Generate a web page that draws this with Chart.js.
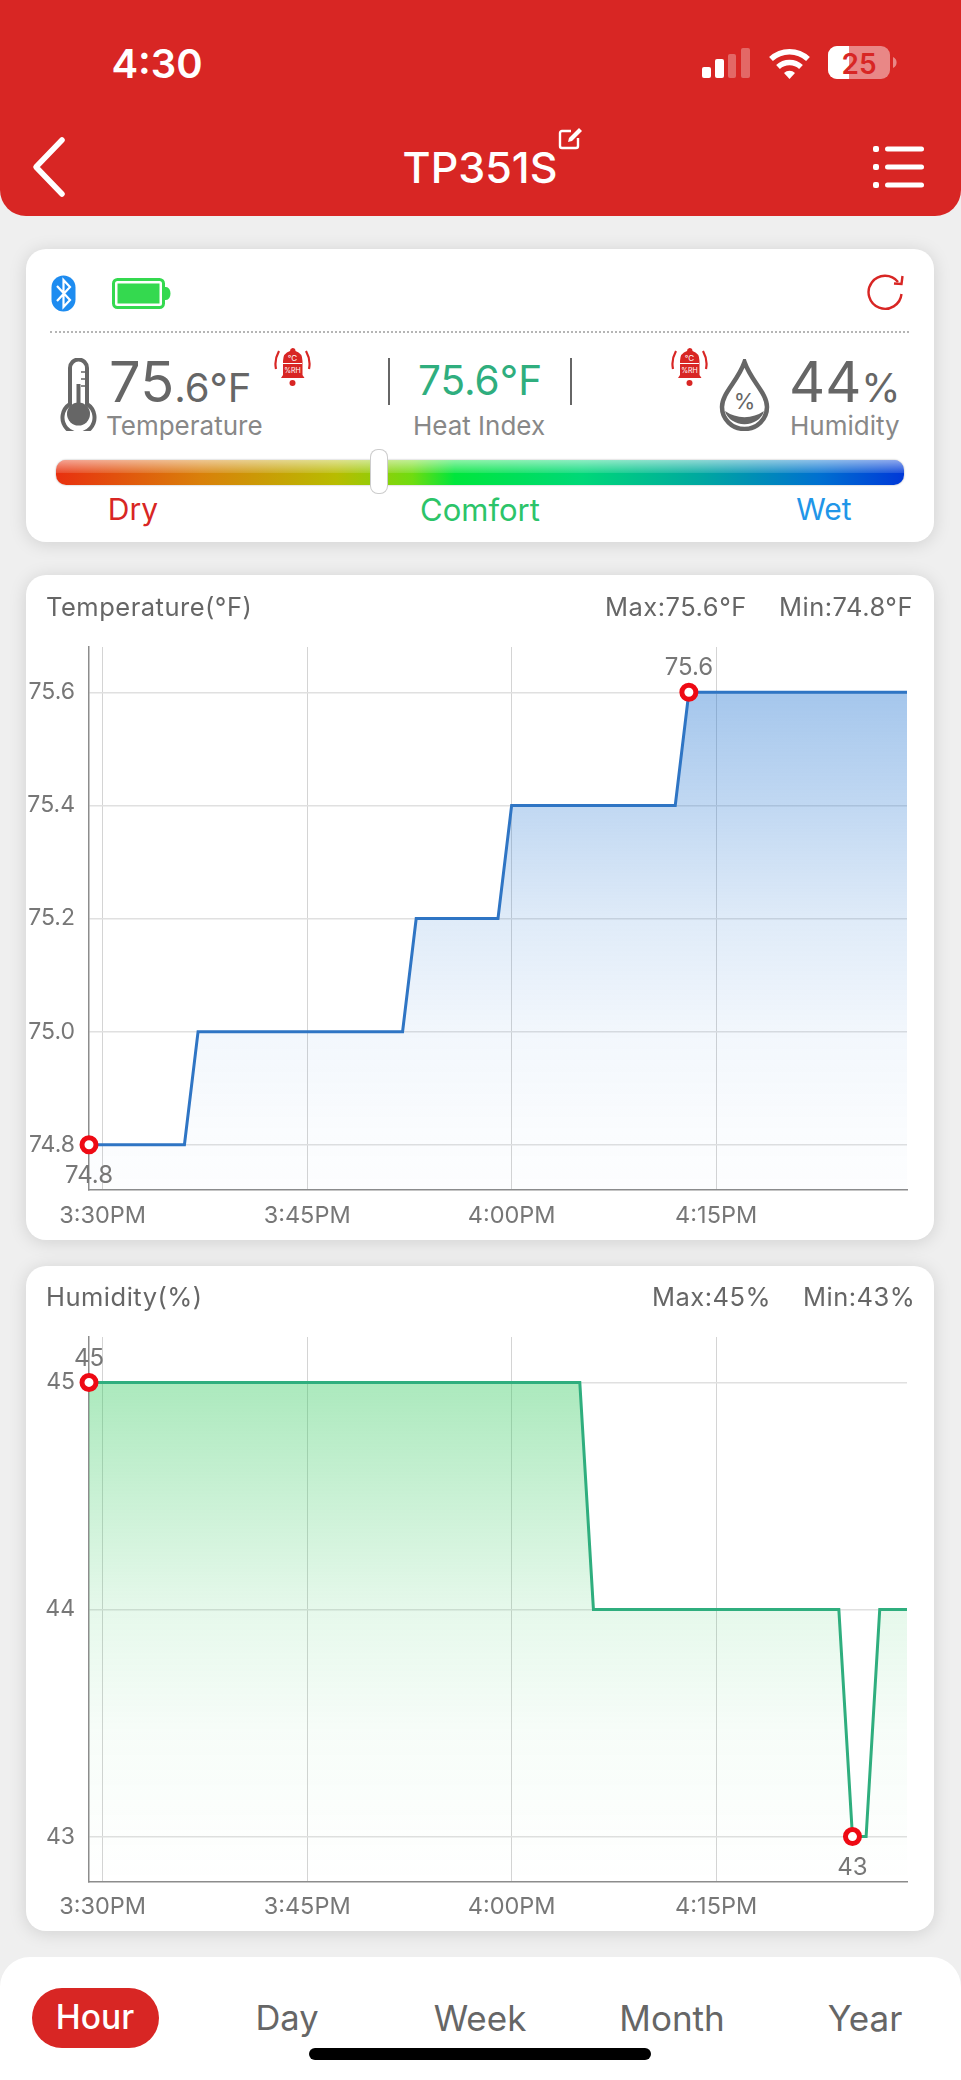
<!DOCTYPE html>
<html><head><meta charset="utf-8">
<script src="https://cdn.jsdelivr.net/npm/chart.js@4"></script>
<style>
html,body{margin:0;padding:0;width:961px;height:2080px;overflow:hidden;background:#efefef;font-family:Inter,"Noto Sans",sans-serif;}
.a{position:absolute}
.t{position:absolute;white-space:nowrap;line-height:1;transform:translateY(-50%);}
.c{transform:translate(-50%,-50%);}
.card{position:absolute;left:26px;width:908px;background:#fff;border-radius:20px;box-shadow:0 2px 18px rgba(0,0,0,.13);}
canvas{position:absolute;left:0;top:0;}
</style></head><body>
<!-- header -->
<div class="a" style="left:0;top:0;width:961px;height:216px;background:#d82624;border-radius:0 0 26px 26px;"></div>
<div class="t c" style="left:157px;top:64px;color:#fff;font-size:40px;font-weight:600;">4:30</div>
<svg class="a" style="left:700px;top:44px" width="200" height="40" viewBox="0 0 200 40">
 <g fill="#fff"><rect x="2" y="23" width="9" height="11" rx="2"/><rect x="15" y="15" width="9" height="19" rx="2"/></g>
 <g fill="#fff" opacity=".3"><rect x="28" y="10" width="8" height="24" rx="2"/><rect x="41" y="4" width="9" height="30" rx="2"/></g>
 <g fill="none" stroke="#fff" stroke-width="5.5" stroke-linecap="butt"><path d="M71 15a27 27 0 0 1 37 0"/><path d="M78 23a17 17 0 0 1 23 0"/></g>
 <path d="M84 29a8 8 0 0 1 11 0l-5.5 6z" fill="#fff"/>
 <rect x="128" y="2" width="62" height="33" rx="9" fill="#fff" opacity=".45"/>
 <path d="M137 2h12v33h-12a9 9 0 0 1-9-9V11a9 9 0 0 1 9-9z" fill="#fff"/>
 <path d="M193 13a6 6 0 0 1 0 11z" fill="#fff" opacity=".45"/>
</svg>
<div class="t c" style="left:859px;top:64px;color:#d82624;font-size:28px;font-weight:600;">25</div>
<svg class="a" style="left:30px;top:135px" width="40" height="64" viewBox="0 0 40 64"><path d="M32 5L6 32l26 27" fill="none" stroke="#fff" stroke-width="5.5" stroke-linecap="round" stroke-linejoin="round"/></svg>
<div class="t c" style="left:480px;top:167px;color:#fff;font-size:43px;font-weight:500;">TP351S</div>
<svg class="a" style="left:558px;top:126px" width="26" height="24" viewBox="0 0 26 24"><path d="M13 5H4a2 2 0 0 0-2 2v13a2 2 0 0 0 2 2h14a2 2 0 0 0 2-2v-8" fill="none" stroke="#fff" stroke-width="2.4"/><path d="M21 2l3 3-10 10-4 1 1-4z" fill="#fff"/></svg>
<svg class="a" style="left:870px;top:142px" width="58" height="50" viewBox="0 0 58 50"><g fill="#fff"><rect x="3" y="4" width="6" height="6" rx="2"/><rect x="3" y="22" width="6" height="6" rx="2"/><rect x="3" y="40" width="6" height="6" rx="2"/><rect x="15" y="4.500" width="39" height="5" rx="2.500"/><rect x="15" y="22.500" width="39" height="5" rx="2.500"/><rect x="15" y="40.500" width="39" height="5" rx="2.500"/></g></svg>

<!-- info card -->
<div class="card" style="top:249px;height:293px;"></div>
<svg class="a" style="left:51px;top:275px" width="25" height="37" viewBox="0 0 25 37"><rect x="0.500" y="0.500" width="24" height="36" rx="12" fill="#1e8cf0"/><path d="M6 11l13 14-6.500 7V5l6.500 7L6 26" fill="none" stroke="#fff" stroke-width="2.200"/></svg>
<svg class="a" style="left:112px;top:278px" width="60" height="31" viewBox="0 0 60 31"><rect x="1.500" y="1.500" width="50" height="28" rx="4" fill="none" stroke="#34d94f" stroke-width="3"/><rect x="5.500" y="5.500" width="42" height="20" fill="#34d94f"/><path d="M54 10a3.500 5.500 0 0 1 0 11z" fill="#34d94f" stroke="#34d94f" stroke-width="2"/></svg>
<svg class="a" style="left:866px;top:272px" width="40" height="42" viewBox="0 0 40 42"><path d="M32 10A16.500 16.500 0 1 0 35.500 22" fill="none" stroke="#d82624" stroke-width="2.400"/><path d="M28 11.500L35.500 12l1-8" fill="none" stroke="#d82624" stroke-width="2.400"/></svg>
<div class="a" style="left:50px;top:331px;width:859px;border-top:2px dotted #b5b5b5;"></div>

<svg class="a" style="left:60px;top:358px" width="37" height="73" viewBox="0 0 37 73"><path d="M10 46V10a8.500 8.500 0 0 1 17 0v36a16 16 0 1 1-17 0z" fill="#fff" stroke="#666" stroke-width="4"/><circle cx="18.500" cy="56" r="11.500" fill="#666"/><rect x="16.500" y="26" width="4" height="28" fill="#666"/><path d="M21 14h4M21 21h4M21 28h4" stroke="#666" stroke-width="1.500"/></svg>
<div class="t" style="left:109px;top:382px;color:#666;font-size:56px;">75<span style="font-size:40px;">.6°F</span></div>
<div class="t" style="left:106px;top:426px;color:#888;font-size:26px;">Temperature</div>
<svg class="a" style="left:273px;top:347px" width="39" height="40" viewBox="0 0 39 40"><g fill="none" stroke="#d82624" stroke-width="2.200"><path d="M6 4Q1 13 3 22"/><path d="M33 4Q38 13 36 22"/></g><path d="M19.500 1a3 3 0 0 1 3 3q7 2 7 10v14l2 3H8l2-3V14q0-8 7-10a3 3 0 0 1 2.500-3z" fill="#d82624"/><circle cx="19.500" cy="36" r="3" fill="#d82624"/><text x="19.500" y="14" text-anchor="middle" font-size="8" fill="#fff" font-family="Inter">°C</text><rect x="10" y="16" width="19" height="1" fill="#fff"/><text x="19.500" y="26" text-anchor="middle" font-size="7" fill="#fff" font-family="Inter">%RH</text></svg>
<div class="a" style="left:388px;top:358px;width:2px;height:47px;background:#666;"></div>
<div class="a" style="left:570px;top:358px;width:2px;height:47px;background:#666;"></div>
<div class="t c" style="left:480px;top:381px;color:#2fae7e;font-size:40.500px;">75.6°F</div>
<div class="t c" style="left:479px;top:426px;color:#888;font-size:26px;">Heat Index</div>
<svg class="a" style="left:670px;top:347px" width="39" height="40" viewBox="0 0 39 40"><g fill="none" stroke="#d82624" stroke-width="2.200"><path d="M6 4Q1 13 3 22"/><path d="M33 4Q38 13 36 22"/></g><path d="M19.500 1a3 3 0 0 1 3 3q7 2 7 10v14l2 3H8l2-3V14q0-8 7-10a3 3 0 0 1 2.500-3z" fill="#d82624"/><circle cx="19.500" cy="36" r="3" fill="#d82624"/><text x="19.500" y="14" text-anchor="middle" font-size="8" fill="#fff" font-family="Inter">°C</text><rect x="10" y="16" width="19" height="1" fill="#fff"/><text x="19.500" y="26" text-anchor="middle" font-size="7" fill="#fff" font-family="Inter">%RH</text></svg>
<svg class="a" style="left:719px;top:359px" width="51" height="72" viewBox="0 0 51 72"><path d="M25.500 3C19 22 3 34 3 48a22.500 22 0 0 0 45 0C48 34 32 22 25.500 3z" fill="#fff" stroke="#666" stroke-width="4.500"/><path d="M6 52a20 17 0 0 0 39 0a34 34 0 0 1-39 0z" fill="#666"/><text x="25.500" y="50" text-anchor="middle" font-size="22" fill="#666" font-family="Inter">%</text></svg>
<div class="t" style="left:789px;top:382px;color:#666;font-size:56px;">44<span style="font-size:40px;">%</span></div>
<div class="t" style="left:790px;top:426px;color:#888;font-size:26px;">Humidity</div>

<div class="a" style="left:56px;top:460px;width:848px;height:25px;border-radius:10px;background:linear-gradient(90deg,#e8300f 0%,#d9800a 17%,#b8bc00 33%,#70dc10 42%,#00e63c 47%,#00d878 62%,#00a8a0 76%,#0070d0 90%,#0038d8 100%);overflow:hidden;box-shadow:0 0 2px rgba(0,0,0,.35);">
 <div class="a" style="left:0;top:0;width:100%;height:50%;background:linear-gradient(180deg,rgba(255,255,255,.55),rgba(255,255,255,.12));"></div>
</div>
<div class="a" style="left:371px;top:450px;width:16px;height:43px;background:#fff;border-radius:7px;box-shadow:0 0 0 1px #ccc;"></div>
<div class="t c" style="left:133px;top:509px;color:#d82624;font-size:30px;">Dry</div>
<div class="t c" style="left:480px;top:509px;color:#2cc469;font-size:31px;">Comfort</div>
<div class="t c" style="left:824px;top:509px;color:#2196e8;font-size:30px;">Wet</div>

<!-- temperature card -->
<div class="card" style="top:575px;height:665px;"><canvas id="tempChart"></canvas></div>
<div class="t" style="left:46px;top:607px;color:#666;font-size:25.500px;letter-spacing:.5px;">Temperature(°F)</div>
<div class="t" style="left:605px;top:607px;color:#666;font-size:25.500px;letter-spacing:.5px;">Max:75.6°F</div>
<div class="t" style="left:779px;top:607px;color:#666;font-size:25.500px;letter-spacing:.5px;">Min:74.8°F</div>

<!-- humidity card -->
<div class="card" style="top:1266px;height:665px;"><canvas id="humChart"></canvas></div>
<div class="t" style="left:46px;top:1297px;color:#666;font-size:25.500px;letter-spacing:.5px;">Humidity(%)</div>
<div class="t" style="left:652px;top:1297px;color:#666;font-size:25.500px;letter-spacing:.5px;">Max:45%</div>
<div class="t" style="left:803px;top:1297px;color:#666;font-size:25.500px;letter-spacing:.5px;">Min:43%</div>

<!-- tabs -->
<div class="a" style="left:0;top:1957px;width:961px;height:123px;background:#fff;border-radius:30px 30px 0 0;"></div>
<div class="a" style="left:32px;top:1988px;width:127px;height:60px;background:#d82624;border-radius:30px;"></div>
<div class="t c" style="left:95px;top:2018px;color:#fff;font-size:33.500px;font-weight:500;">Hour</div>
<div class="t c" style="left:287px;top:2018px;color:#666;font-size:34.500px;">Day</div>
<div class="t c" style="left:480px;top:2018px;color:#666;font-size:35px;">Week</div>
<div class="t c" style="left:672px;top:2018px;color:#666;font-size:35px;">Month</div>
<div class="t c" style="left:865px;top:2018px;color:#666;font-size:35px;">Year</div>
<div class="a" style="left:309px;top:2048px;width:342px;height:12px;background:#000;border-radius:6px;"></div>

<script>
const timeLabels = [
 '3:29PM','3:30PM','3:31PM','3:32PM','3:33PM','3:34PM','3:35PM','3:36PM','3:37PM','3:38PM','3:39PM',
 '3:40PM','3:41PM','3:42PM','3:43PM','3:44PM','3:45PM','3:46PM','3:47PM','3:48PM','3:49PM',
 '3:50PM','3:51PM','3:52PM','3:53PM','3:54PM','3:55PM','3:56PM','3:57PM','3:58PM','3:59PM',
 '4:00PM','4:01PM','4:02PM','4:03PM','4:04PM','4:05PM','4:06PM','4:07PM','4:08PM','4:09PM',
 '4:10PM','4:11PM','4:12PM','4:13PM','4:14PM','4:15PM','4:16PM','4:17PM','4:18PM','4:19PM',
 '4:20PM','4:21PM','4:22PM','4:23PM','4:24PM','4:25PM','4:26PM','4:27PM','4:28PM','4:29PM'];
const xTickLabels = ['3:30PM','3:45PM','4:00PM','4:15PM'];
const temperatureValues = [
 74.8,74.8,74.8,74.8,74.8,74.8,74.8,74.8,
 75.0,75.0,75.0,75.0,75.0,75.0,75.0,75.0,75.0,75.0,75.0,75.0,75.0,75.0,75.0,75.0,
 75.2,75.2,75.2,75.2,75.2,75.2,75.2,
 75.4,75.4,75.4,75.4,75.4,75.4,75.4,75.4,75.4,75.4,75.4,75.4,75.4,
 75.6,75.6,75.6,75.6,75.6,75.6,75.6,75.6,75.6,75.6,75.6,75.6,75.6,75.6,75.6,75.6,75.6];
const humidityValues = [
 45,45,45,45,45,45,45,45,45,45,45,45,45,45,45,45,45,45,45,45,45,45,45,45,45,45,45,45,45,45,45,45,45,45,45,45,45,
 44,44,44,44,44,44,44,44,44,44,44,44,44,44,44,44,44,44,44,
 43,43,
 44,44,44];
const tempTicks = [74.8,75.0,75.2,75.4,75.6];
const humTicks = [43,44,45];

Chart.defaults.font.family = 'Inter';
const TICK_COLOR = '#777', GRID = '#e0e0e0', VGRID = '#d4d4d4', AXIS = '#8c8c8c';

const extremaLabels = {
  id:'extremaLabels',
  afterDatasetsDraw(chart, args, opts){
    const ds = chart.data.datasets[0], pts = chart.getDatasetMeta(0).data, c = chart.ctx;
    const hi = ds.data.indexOf(Math.max(...ds.data)), lo = ds.data.indexOf(Math.min(...ds.data));
    c.save(); c.font = '24px Inter'; c.fillStyle = '#777'; c.textAlign='center'; c.textBaseline='middle';
    c.fillText(opts.format(ds.data[hi]), pts[hi].x, pts[hi].y-24);
    c.fillText(opts.format(ds.data[lo]), pts[lo].x, pts[lo].y+31);
    c.restore();
  }
};

function makeChart(id, values, cfg){
  const canvas = document.getElementById(id);
  canvas.width = 908; canvas.height = 665;
  canvas.style.width='908px'; canvas.style.height='665px';
  const hi = values.indexOf(Math.max(...values)), lo = values.indexOf(Math.min(...values));
  return new Chart(canvas,{
    type:'line',
    data:{labels:timeLabels,datasets:[{
      data:values,borderColor:cfg.line,borderWidth:3,tension:0,stepped:false,fill:'start',clip:false,
      backgroundColor(ctx){
        const {chart}=ctx; if(!chart.chartArea) return 'transparent';
        const top=chart.scales.y.getPixelForValue(Math.max(...values));
        const g=chart.ctx.createLinearGradient(0,top,0,chart.chartArea.bottom);
        cfg.stops.forEach(([p,a])=>g.addColorStop(p,`rgba(${cfg.rgb},${a})`));
        return g;
      },
      pointRadius:c=>(c.dataIndex===hi||c.dataIndex===lo)?7:0,
      pointHoverRadius:c=>(c.dataIndex===hi||c.dataIndex===lo)?7:0,
      pointBackgroundColor:'#fff',pointBorderColor:'#ee0a14',pointBorderWidth:5
    }]},
    options:{
      responsive:false,animation:false,devicePixelRatio:1,
      layout:{padding:{top:cfg.paddingTop,right:27,left:0,bottom:0}},
      plugins:{legend:{display:false},tooltip:{enabled:false},extremaLabels:{format:cfg.fmt}},
      scales:{
        x:{type:'category',offset:false,
          grid:{color:VGRID,lineWidth:1,drawTicks:false},
          border:{color:AXIS,width:1.5},
          afterBuildTicks(s){s.ticks=s.ticks.filter(t=>xTickLabels.includes(timeLabels[t.value]));},
          afterFit(s){s.height=cfg.xHeight;},
          ticks:{autoSkip:false,maxRotation:0,minRotation:0,padding:cfg.xPad,color:TICK_COLOR,font:{size:23.5},
            callback(v){return this.getLabelForValue(v);}}
        },
        y:{type:'linear',min:cfg.min,max:cfg.max,
          grid:{color:GRID,lineWidth:1.5,drawTicks:false},
          border:{color:AXIS,width:1.5},
          afterBuildTicks(s){s.ticks=cfg.ticks.map(v=>({value:v}));},
          afterFit(s){s.width=63;},
          ticks:{padding:14,color:TICK_COLOR,font:{size:23},callback:cfg.fmt}
        }
      }
    },
    plugins:[extremaLabels]
  });
}
makeChart('tempChart',temperatureValues,{
  line:'#2f75c4',rgb:'40,120,210',min:74.72,max:75.68,ticks:tempTicks,fmt:v=>Number(v).toFixed(1),
  paddingTop:72,xHeight:50,xPad:12,
  stops:[[0,.42],[.227,.29],[.455,.15],[.683,.06],[.91,.02],[1,.01]]
});
makeChart('humChart',humidityValues,{
  line:'#2fae7e',rgb:'46,200,90',min:42.8,max:45.2,ticks:humTicks,fmt:v=>String(v),
  paddingTop:71,xHeight:49,xPad:11,
  stops:[[0,.40],[.226,.26],[.454,.12],[.7,.04],[.91,.01],[1,0]]
});
</script>
</body></html>
